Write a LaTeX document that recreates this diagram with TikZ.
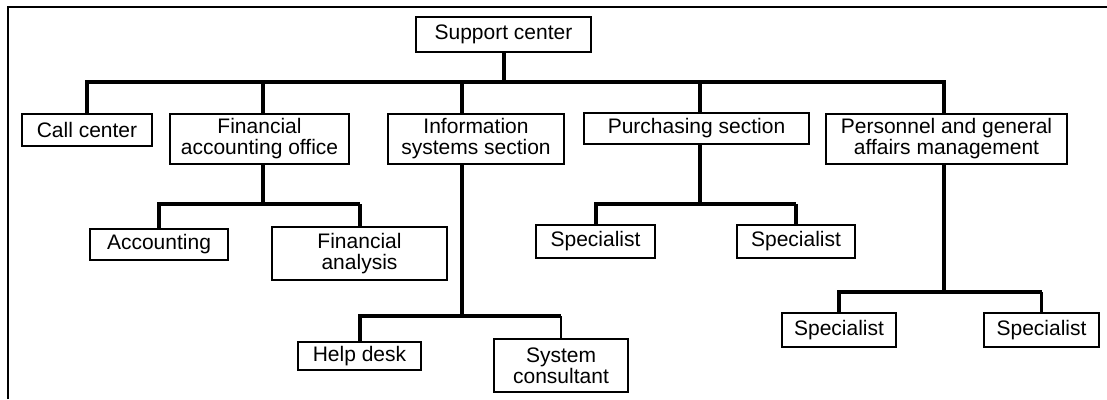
\documentclass[tikz,border=0pt]{standalone}
\usepackage{fontspec}
\setmainfont{Liberation Sans}
\usetikzlibrary{positioning,calc}
\tikzset{
  unit/.style={rectangle, draw, line width=1.3pt, align=center,
    inner sep=0pt, font=\fontsize{21}{21}\selectfont},
  link/.style={line width=4pt, line join=miter, line cap=butt},
  frame/.style={line width=1.5pt},
}

\begin{document}
\begin{tikzpicture}[x=1pt, y=-1pt]
\useasboundingbox (0,0) rectangle (1107,399);

% Rahmen, rechts und unten abgeschnitten
\draw[frame] (8,399) -- (8,7) -- (1107,7);

% Spitze
\node[unit, minimum width=175pt, minimum height=35pt] (sc) at (503.5,34.5)
  {Support center};

% erste Ebene
\node[unit, minimum width=130pt, minimum height=32pt] (cc)  at (87,130)
  {Call center};
\node[unit, minimum width=179pt, minimum height=50pt] (fao) at (259.5,139)
  {Financial\\accounting office};
\node[unit, minimum width=176pt, minimum height=50pt] (iss) at (476,139)
  {Information\\systems section};
\node[unit, minimum width=225pt, minimum height=31pt] (ps)  at (696.5,128.5)
  {Purchasing section};
\node[unit, minimum width=241pt, minimum height=50pt] (pga) at (946.5,139)
  {Personnel and general\\affairs management};

% zweite Ebene
\node[unit, minimum width=138pt, minimum height=31pt] (acc) at (159,244.5)
  {Accounting};
\node[unit, minimum width=175pt, minimum height=53pt] (fa)  at (359.5,253.5)
  {Financial\\analysis};
\node[unit, minimum width=119pt, minimum height=33pt] (sp1) at (595.5,241.5)
  {Specialist};
\node[unit, minimum width=118pt, minimum height=33pt] (sp2) at (796,241.5)
  {Specialist};
\node[unit, minimum width=123pt, minimum height=28pt] (hd)  at (359.5,356)
  {Help desk};
\node[unit, minimum width=134pt, minimum height=53pt] (scn) at (561,365.5)
  {System\\consultant};
\node[unit, minimum width=114pt, minimum height=34pt] (sp3) at (839,330)
  {Specialist};
\node[unit, minimum width=115pt, minimum height=34pt] (sp4) at (1041.5,330)
  {Specialist};

% Hauptschiene unter dem Support center
\coordinate (jsc) at ($(sc.south)+(0.5,29)$);
\draw[link] (sc.south -| jsc) -- (jsc);
\foreach \kid/\dx in {cc/0, fao/3.5, iss/-14, ps/3.5, pga/-2.5}{
  \draw[link] ([xshift=\dx pt]\kid.north) |- (jsc);
}

% Verteiler der Abteilungen: Stamm nach unten, dann je zwei Kinder;
% der rechte Abgang hat eine eigene Strichstaerke
\foreach \up/\dx/\dy/\kA/\kB/\lw in {fao/3.5/39/acc/fa/4,
    iss/-14/151/hd/scn/2.2, ps/3.5/59/sp1/sp2/4, pga/-2.5/127/sp3/sp4/3.4}{
  \coordinate (j\up) at ($(\up.south)+(\dx,\dy)$);
  \draw[link] (\up.south -| j\up) -- (j\up);
  \draw[link] (\kA.north) |- (\kB.north |- j\up);
  \draw[link, line width=\lw pt] (\kB.north) -- (\kB.north |- j\up);
}

\end{tikzpicture}
\end{document}
